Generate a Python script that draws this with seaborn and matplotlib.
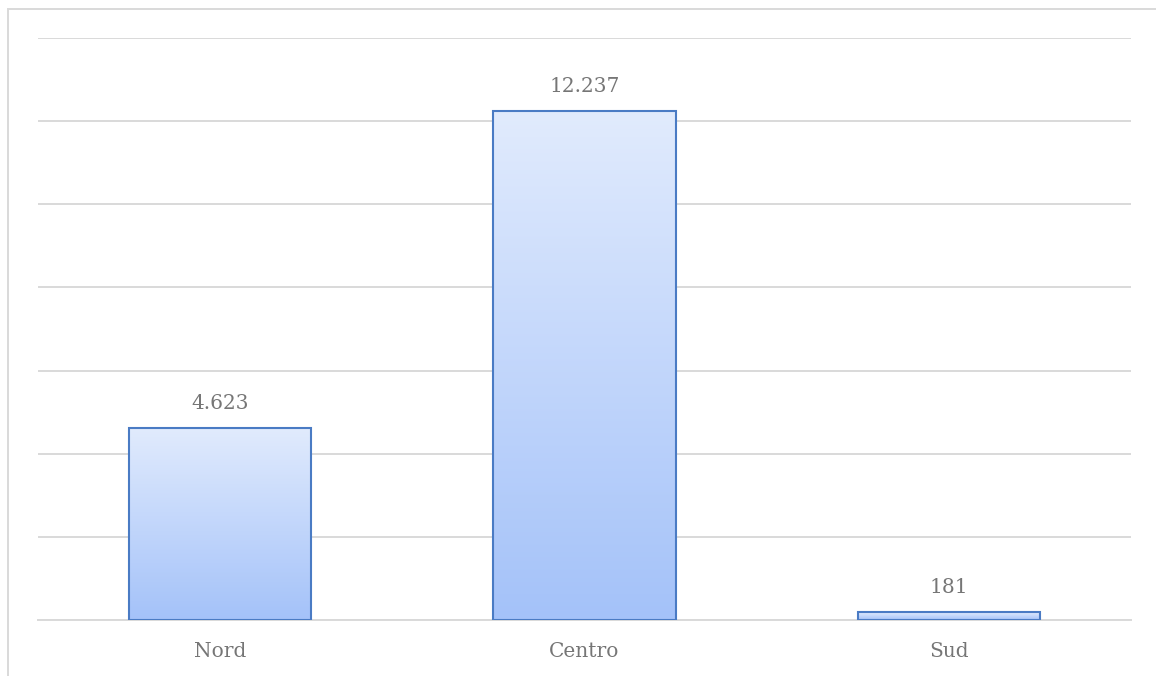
import numpy as np
import pandas as pd
import matplotlib
matplotlib.use("Agg")
import matplotlib.pyplot as plt
import seaborn as sns
from matplotlib.colors import LinearSegmentedColormap
from matplotlib.patches import Rectangle

categories = ["Nord", "Centro", "Sud"]
values = [4623, 12237, 181]
labels = ["4.623", "12.237", "181"]

sns.set_style("white")
plt.rcParams['font.family'] = ['DejaVu Serif', 'Liberation Serif']

W, H = 1156, 676
fig = plt.figure(figsize=(W / 100, H / 100), dpi=100)
ax = fig.add_axes([38 / W, (H - 620) / H, (1131 - 38) / W, (620 - 38) / H])

df = pd.DataFrame({"cat": categories, "val": values})
sns.barplot(data=df, x="cat", y="val", ax=ax, width=0.5, color="#C9DBFB",
            edgecolor="#4A7BC4", linewidth=1.5, zorder=3)

ax.set_ylim(0, 14000)
ax.set_xlim(-0.5, 2.5)
ax.set_yticks(np.arange(0, 14001, 2000))
ax.yaxis.grid(True, color="#D9D9D9", linewidth=1.4, zorder=0)
ax.set_yticklabels([])
ax.tick_params(axis="y", length=0)
ax.tick_params(axis="x", length=0, pad=16, labelsize=14.5, labelcolor="#767676")
ax.set_xlabel("")
ax.set_ylabel("")
for s in ["top", "right", "left"]:
    ax.spines[s].set_visible(False)
ax.spines["bottom"].set_color("#D9D9D9")
ax.spines["bottom"].set_linewidth(1.4)

cmap = LinearSegmentedColormap.from_list("g", ["#A4C2F9", "#E1EBFD"])
grad = np.linspace(0, 1, 256).reshape(-1, 1)
for p, lab in zip(ax.patches, labels):
    x0, y0 = p.get_x(), p.get_y()
    w, h = p.get_width(), p.get_height()
    im = ax.imshow(grad, cmap=cmap, origin="lower", aspect="auto",
                   extent=[x0, x0 + w, y0, y0 + h], zorder=3.5)
    im.set_clip_path(p)
    p.set_facecolor("none")
    p.set_zorder(4)
    ax.annotate(lab, (x0 + w / 2, y0 + h), xytext=(0, 11), textcoords="offset points",
                ha="center", va="bottom", fontsize=14.5, color="#767676")
ax.set_xlim(-0.5, 2.5)
ax.set_ylim(0, 14000)

# outer chart border (top and left visible)
fig.add_artist(Rectangle((8 / W, -0.1), 1.2, (H - 9) / H + 0.1, transform=fig.transFigure,
                         fill=False, edgecolor="#D9D9D9", linewidth=1.4))

fig.savefig("out.png", dpi=100)
